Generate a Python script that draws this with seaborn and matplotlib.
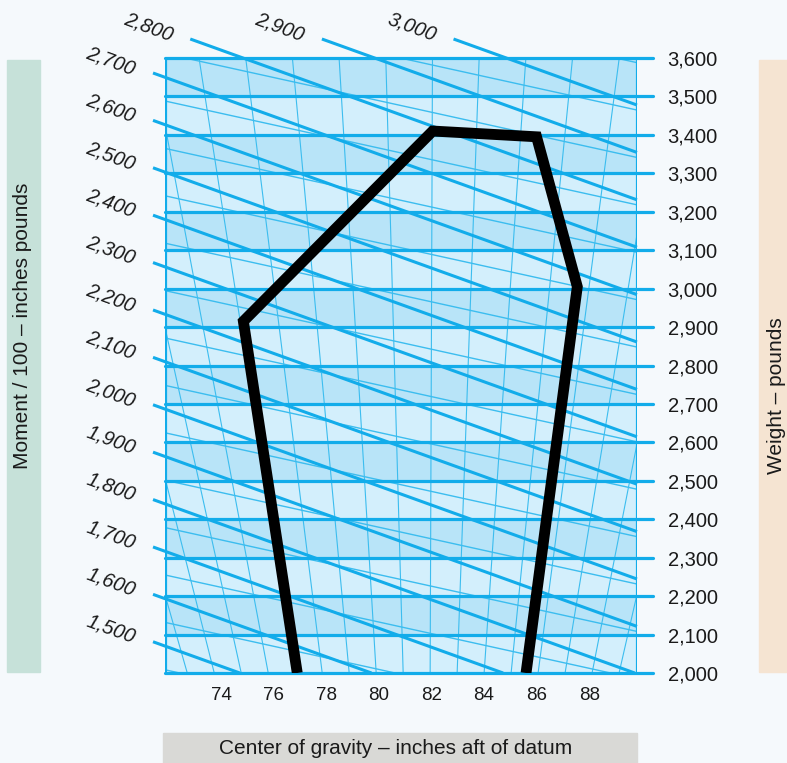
import numpy as np
import matplotlib
matplotlib.use("Agg")
import matplotlib.pyplot as plt
from matplotlib.patches import Rectangle
import seaborn as sns

# ---------------- data ----------------
# CG envelope (inches aft of datum, pounds)
env_cg = [76.9, 74.85, 82.05, 86.0, 87.55, 85.6]
env_weight = [2000, 2915, 3410, 3395, 3005, 2000]

weight_ticks = list(range(2000, 3700, 100))
cg_ticks = [74, 76, 78, 80, 82, 84, 86, 88]
moment_values = list(range(1500, 3100, 100))   # moment / 100 lines

# ---------------- layout ----------------
W_PX, H_PX = 787, 763
X0, X1 = 71.87, 89.82
Y0, Y1 = 2000, 3600
PX = 26.3      # px per inch CG
PY = 0.3844    # px per pound

blue = "#12ACEA"
thin_blue = "#3CBDEF"
dark_band = "#B8E4F8"
light_band = "#D3EFFC"
bg = "#F5F9FC"
ink = "#1a1a1a"

sns.set_theme(style="white")
plt.rcParams['font.family'] = ['Liberation Sans', 'DejaVu Sans']

fig = plt.figure(figsize=(W_PX / 100, H_PX / 100), dpi=100, facecolor=bg)
ax = fig.add_axes([165 / W_PX, 1 - 673 / H_PX, 472 / W_PX, 615 / H_PX])
ax.set_facecolor(bg)
ax.set_xlim(X0, X1)
ax.set_ylim(Y0, Y1)

# alternating weight bands
for i, (lo, hi) in enumerate(zip(weight_ticks[:-1], weight_ticks[1:])):
    ax.axhspan(lo, hi, color=dark_band if i % 2 else light_band, lw=0, zorder=0)

# fan of thin CG lines (converging downwards)
top0 = 74 + (199 - 221) / PX
step = 46.7 / PX
cg_f = 74 + (427 - 221) / PX
for k in range(-6, 14):
    ct = top0 + k * step
    cb = cg_f + (ct - cg_f) * 0.578
    ax.plot([ct, cb], [Y1, Y0], color=thin_blue, lw=0.8, zorder=1)

# moment lines
m_slope = -0.36 * PX / PY          # thick lines, lb per inch
t_slope = -0.22 * PX / PY          # thin lines
cg_start = 74 + (153 - 221) / PX   # where labelled lines begin on the left
w_top_start = Y1 + 19 / PY         # lines above the box begin here


def w_at_start(m):
    return 3561 + (m - 2700) * 47.4 / 100 / PY


# thin intermediate lines
for m in [moment_values[0] - 100] + moment_values:
    wl = w_at_start(m + 50) + (X0 - cg_start) * m_slope
    xs = np.array([X0, X1])
    ax.plot(xs, wl + (xs - X0) * t_slope, color=thin_blue, lw=1.0, zorder=2)

# thick labelled lines
for m in moment_values:
    w0 = w_at_start(m)
    if w0 > w_top_start:
        cs = cg_start + (w0 - w_top_start) / -m_slope
        ws = w_top_start
    else:
        cs, ws = cg_start, w0
    ce = min(X1, cg_start + (w0 - Y0) / -m_slope)
    we = w0 + (ce - cg_start) * m_slope
    ax.plot([cs, ce], [ws, we], color=blue, lw=2.2, zorder=3, clip_on=False,
            solid_capstyle="butt")
    lx = cs - 42 / PX
    ly = ws + (lx - cs) * m_slope - 3 / PY
    ax.text(lx, ly, f"{m:,}", rotation=-20, rotation_mode="anchor",
            ha="center", va="center", fontsize=14.5, style="italic",
            color=ink, clip_on=False)

# horizontal weight lines, running out past the right edge
for w in weight_ticks:
    ax.axhline(w, xmin=0, xmax=1.034, color=blue, lw=2.3, zorder=4, clip_on=False)
ax.axvline(X0, color=blue, lw=2.3, zorder=4)
ax.axvline(X1, color=blue, lw=2.3, zorder=4)

# envelope
sns.lineplot(x=env_cg, y=env_weight, sort=False, estimator=None, color="black",
             lw=7.8, ax=ax, zorder=5)
for ln in ax.lines[-1:]:
    ln.set_solid_joinstyle("miter")
    ln.set_solid_capstyle("butt")

for s in ax.spines.values():
    s.set_visible(False)

ax.set_xticks(cg_ticks)
ax.set_xticklabels([str(c) for c in cg_ticks])
ax.yaxis.tick_right()
ax.set_yticks(weight_ticks)
ax.set_yticklabels([f"{w:,}" for w in weight_ticks])
ax.tick_params(axis="x", length=0, pad=10, labelsize=13.5, colors=ink)
ax.tick_params(axis="y", length=0, pad=22, labelsize=14.5, colors=ink)
ax.set_xlabel("")
ax.set_ylabel("")

# side title boxes
fig.patches.append(Rectangle((7 / W_PX, 1 - 672 / H_PX), 33 / W_PX, 612 / H_PX,
                             transform=fig.transFigure, color="#C6E1D9", zorder=0))
fig.patches.append(Rectangle((759 / W_PX, 1 - 672 / H_PX), 30 / W_PX, 612 / H_PX,
                             transform=fig.transFigure, color="#F5E4D2", zorder=0))
fig.patches.append(Rectangle((163 / W_PX, 0), 474 / W_PX, 30 / H_PX,
                             transform=fig.transFigure, color="#D9D9D6", zorder=0))
fig.text(23 / W_PX, 1 - 326 / H_PX, "Moment / 100 – inches pounds", rotation=90,
         ha="center", va="center", fontsize=15, color=ink)
fig.text(776 / W_PX, 1 - 396 / H_PX, "Weight – pounds", rotation=90,
         ha="center", va="center", fontsize=15, color=ink)
fig.text(396 / W_PX, 1 - 749 / H_PX, "Center of gravity – inches aft of datum",
         ha="center", va="center", fontsize=15, color=ink)

fig.savefig("out.png", dpi=100, facecolor=bg)
